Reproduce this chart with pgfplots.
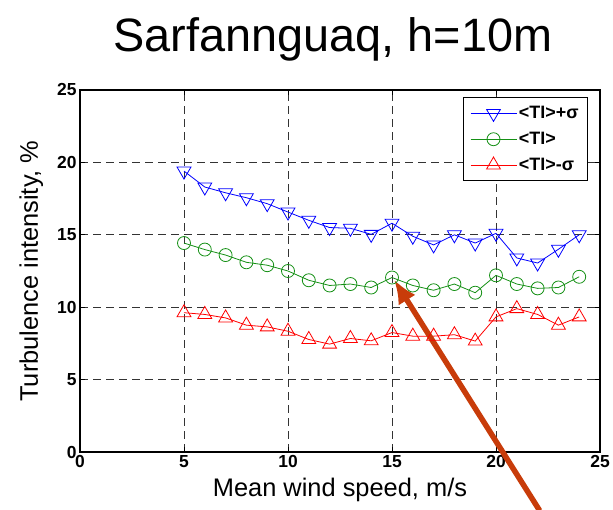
\documentclass[border=0pt]{standalone}
\usepackage{fontspec}
\setmainfont{Liberation Sans}
\usepackage{pgfplots}
\pgfplotsset{compat=1.18}
\usetikzlibrary{arrows.meta}
\definecolor{mgreen}{HTML}{159015}
\definecolor{arrowc}{HTML}{C83C0A}

\pgfplotstableread{
x   up     mean   low
5   19.4   14.43  9.62
6   18.3   13.98  9.5
7   17.9   13.6   9.26
8   17.56  13.1   8.76
9   17.15  12.9   8.64
10  16.57  12.5   8.34
11  16.0   11.86  7.77
12  15.5   11.5   7.45
13  15.45  11.6   7.84
14  15.03  11.36  7.68
15  15.8   12.05  8.25
16  14.9   11.5   8.0
17  14.3   11.17  8.0
18  15.0   11.6   8.1
19  14.43  11.0   7.66
20  15.1   12.2   9.33
21  13.4   11.6   9.9
22  13.05  11.3   9.5
23  14.0   11.36  8.76
24  15.0   12.1   9.33
}\tidata

\begin{document}
\begin{tikzpicture}
\path[use as bounding box] (0,0) rectangle (613bp,510bp);
\node[anchor=base, font=\fontsize{47}{47}\selectfont] at (333bp,458bp) {Sarfannguaq, h=10m};
\begin{axis}[
    at={(80bp,58bp)}, anchor=south west,
    scale only axis,
    width=520bp, height=362bp,
    xmin=0, xmax=25, ymin=0, ymax=25,
    xtick={0,5,...,25}, ytick={0,5,...,25},
    clip=false,
    axis line style={line width=1.2bp},
    tick align=inside,
    major tick length=5bp,
    tick style={line width=0.8bp, black},
    grid=major,
    major grid style={black!80, line width=0.7bp, dash pattern=on 8bp off 5bp},
    /pgf/number format/assume math mode=true,
    ticklabel style={font=\fontsize{17.5}{17.5}\selectfont\bfseries},
    xlabel={Mean wind speed, m/s},
    ylabel={Turbulence intensity, \%},
    label style={font=\fontsize{25.5}{25.5}\selectfont},
    xlabel style={yshift=-3bp},
    ylabel style={yshift=7bp},
    legend style={at={(1,1)}, anchor=north east, xshift=-12bp, yshift=-7bp,
        font=\fontsize{18}{18}\selectfont\bfseries, draw=black, line width=1bp,
        row sep=8bp, inner xsep=7bp, inner ysep=7bp},
    legend cell align=left,
    legend image code/.code={\draw[mark repeat=2, mark phase=2, #1] plot coordinates {(0bp,0bp) (23bp,0bp) (46bp,0bp)};},
]
\addplot[blue, line width=0.8bp, mark=triangle, mark size=8bp, mark options={rotate=180, line width=0.8bp}] table[x=x, y=up] {\tidata};
\addplot[mgreen, line width=0.8bp, mark=o, mark size=6.5bp, mark options={line width=0.8bp}] table[x=x, y=mean] {\tidata};
\addplot[red, line width=0.8bp, mark=triangle, mark size=8bp, mark options={line width=0.8bp}] table[x=x, y=low] {\tidata};
\legend{<TI>+σ, <TI>, <TI>-σ}
\draw[arrowc, line width=5.5bp, -{Latex[length=24bp, width=20bp]}] (axis cs:22.1,-4.05) -- (axis cs:15.1,11.9);
\end{axis}
\end{tikzpicture}
\end{document}
